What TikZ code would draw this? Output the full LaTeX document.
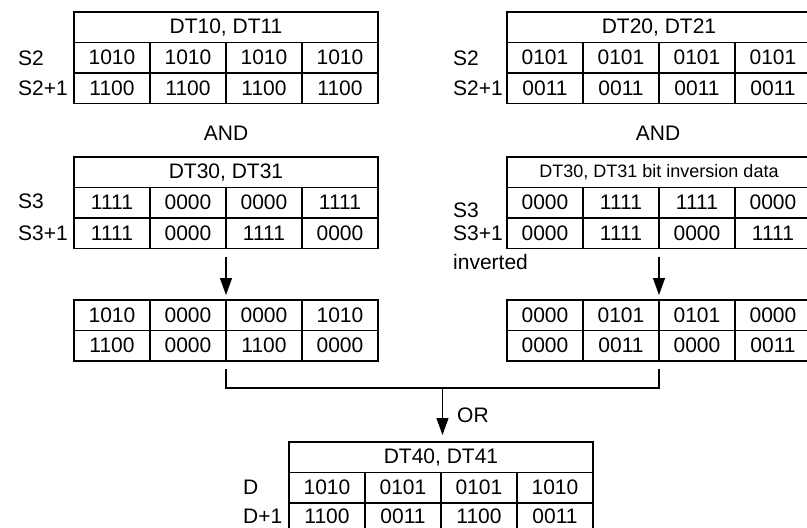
\documentclass[tikz,border=0pt]{standalone}
\usepackage{fontspec}
\setmainfont{Liberation Sans}
\usetikzlibrary{arrows.meta,positioning,calc}

\tikzset{
  every node/.style={font=\fontsize{21}{24}\selectfont},
  cell/.style={draw, line width=1.2pt, minimum width=76pt, minimum height=30.5pt, inner sep=0pt, outer sep=0pt},
  hdrcell/.style={cell, minimum width=304pt},
  rowb/.style={},
  lbl/.style={anchor=west, inner sep=0pt},
  flow/.style={line width=1.2pt, -{Triangle[width=12pt,length=17pt]}},
}

% two data rows of four cells, top left corner at #2
\newcommand{\bitrows}[4]{%
  \foreach \v [count=\c] in {#3}
    \node[cell, anchor=north west] (#1-a\c) at ($#2+(\c*76-76,0)$) {\v};
  \foreach \v [count=\c] in {#4}
    \node[cell, rowb, anchor=north west] (#1-b\c) at ($#2+(\c*76-76,30.5)$) {\v};
}

\begin{document}
\begin{tikzpicture}[x=1pt, y=-1pt]
  \path[use as bounding box] (0,0) rectangle (807,528);
  \clip (0,0) rectangle (807,528);
  % Operands
  \node[hdrcell, anchor=north west] (T1-h) at (74,12) {DT10, DT11};
  \bitrows{T1}{(T1-h.south west)}{1010,1010,1010,1010}{1100,1100,1100,1100}
  \node[hdrcell, anchor=north west] (T2-h) at (507,12) {DT20, DT21};
  \bitrows{T2}{(T2-h.south west)}{0101,0101,0101,0101}{0011,0011,0011,0011}
  \node[lbl] (T1-s) at (18,58) {S2};
  \node[lbl] (T1-t) at (18,88) {S2+1};
  \node[lbl] (T2-s) at (453,58) {S2};
  \node[lbl] (T2-t) at (453,88) {S2+1};
  % AND
  \node (and1) at (226,133) {AND};
  \node (and2) at (658,133) {AND};
  % Masks
  \node[hdrcell, anchor=north west] (T3-h) at (74,157) {DT30, DT31};
  \bitrows{T3}{(T3-h.south west)}{1111,0000,0000,1111}{1111,0000,1111,0000}
  \node[hdrcell, anchor=north west, font=\fontsize{18}{20}\selectfont] (T4-h) at (507,157) {DT30, DT31 bit inversion data};
  \bitrows{T4}{(T4-h.south west)}{0000,1111,1111,0000}{0000,1111,0000,1111}
  \node[lbl] (T3-s) at (18,201) {S3};
  \node[lbl] (T3-t) at (18,233) {S3+1};
  \node[lbl] (T4-s) at (453,210) {S3};
  \node[lbl] (T4-t) at (453,233) {S3+1};
  \node[lbl] (T4-u) at (453,262) {inverted};
  % AND results
  \bitrows{R1}{(74,300)}{1010,0000,0000,1010}{1100,0000,1100,0000}
  \bitrows{R2}{(507,300)}{0000,0101,0101,0000}{0000,0011,0000,0011}
  \draw[flow] ([yshift=-8pt]T3-b2.south east) -- ([yshift=5pt]R1-a2.north east);
  \draw[flow] ([yshift=-8pt]T4-b2.south east) -- ([yshift=5pt]R2-a2.north east);
  % OR result
  \node[hdrcell, anchor=north west] (T5-h) at (289,442) {DT40, DT41};
  \begin{scope}[rowb/.style={minimum height=27pt}]
    \bitrows{T5}{(T5-h.south west)}{1010,0101,0101,1010}{1100,0011,1100,0011}
  \end{scope}
  \node[lbl] (T5-s) at (243,487) {D};
  \node[lbl] (T5-t) at (243,516) {D+1};
  \coordinate (orL) at ([yshift=-8pt]R1-b2.south east);
  \coordinate (orR) at ([yshift=-8pt]R2-b2.south east);
  \coordinate (orM) at ($(orL)!0.5!(orR)+(0,19)$);
  \draw[line width=1.2pt] (orL) -- ++(0,19) -| (orR);
  \draw[flow] (orM) -- ([yshift=7pt]T5-h.north -| orM);
  \node[lbl] (orlbl) at (457,415) {OR};
\end{tikzpicture}
\end{document}
